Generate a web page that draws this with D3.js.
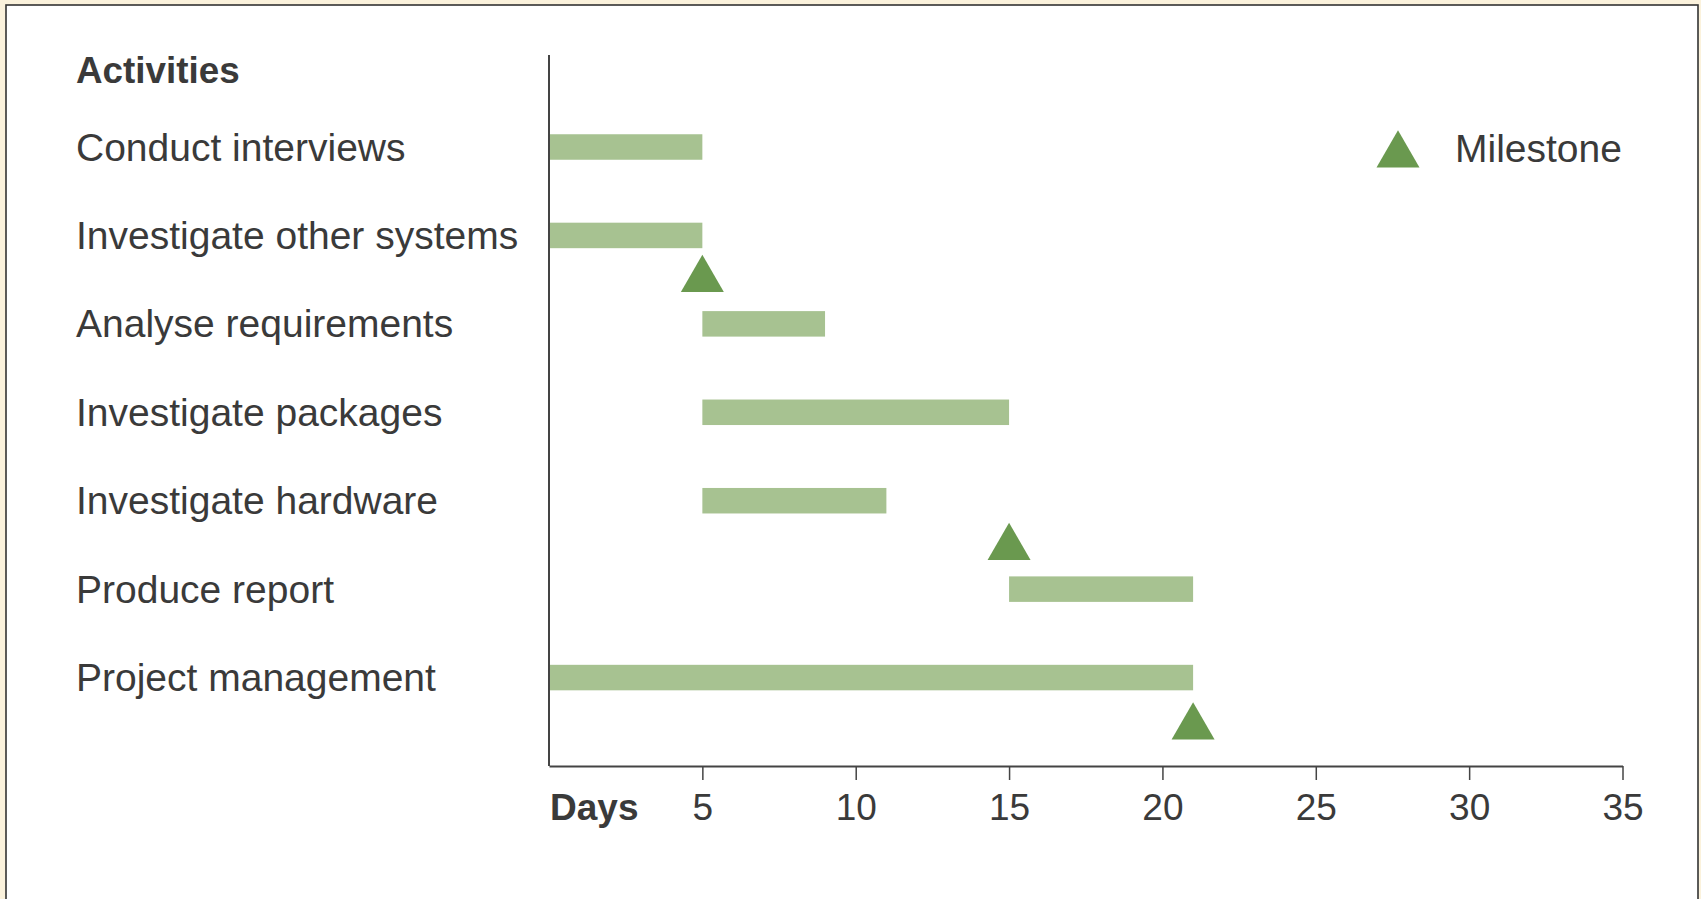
<!DOCTYPE html>
<html>
<head>
<meta charset="utf-8">
<script src="https://cdn.jsdelivr.net/npm/d3@7"></script>
<style>
  html, body { margin: 0; padding: 0; background: #fbf2dc; }
  svg { display: block; }
</style>
</head>
<body>
<script>
// activities and their start/end day
var activities = ["Conduct interviews", "Investigate other systems", "Analyse requirements",
                  "Investigate packages", "Investigate hardware", "Produce report", "Project management"];
var starts = [0, 0, 5, 5, 5, 15, 0];
var ends   = [5, 5, 9, 15, 11, 21, 21];

// milestones: day, and row position (between rows)
var milestoneDays = [5, 15, 21];
var milestoneRows = [1.5, 4.53, 6.56];

var tickValues = [5, 10, 15, 20, 25, 30, 35];

var w = 1701, h = 899;
var font = "'Liberation Sans', Arial, Helvetica, sans-serif";
var textCol = "#3a3a3a";
var barCol = "#a7c291";
var mileCol = "#6a994f";

var svg = d3.select("body").append("svg")
    .attr("width", w)
    .attr("height", h);

// white panel with border
svg.append("rect")
    .attr("x", 6).attr("y", 5)
    .attr("width", 1692).attr("height", 900)
    .attr("fill", "#fff")
    .attr("stroke", "#333")
    .attr("stroke-width", 1.6);

var xScale = d3.scaleLinear().domain([0, 35]).range([549, 1622.5]);
var yScale = d3.scaleLinear().domain([0, 7]).range([147, 766]); // row index -> y centre

var barH = 25.5;

// bars
svg.selectAll("rect.bar")
    .data(activities)
    .enter()
    .append("rect")
    .attr("class", "bar")
    .attr("x", function(d, i){ return xScale(starts[i]); })
    .attr("y", function(d, i){ return yScale(i) - barH / 2; })
    .attr("width", function(d, i){ return xScale(ends[i]) - xScale(starts[i]); })
    .attr("height", barH)
    .attr("fill", barCol);

// activity labels
svg.selectAll("text.act")
    .data(activities)
    .enter()
    .append("text")
    .attr("class", "act")
    .attr("x", 76)
    .attr("y", function(d, i){ return yScale(i) + 13.5; })
    .text(function(d){ return d; })
    .attr("font-family", font)
    .attr("font-size", "39px")
    .attr("fill", textCol);

svg.append("text")
    .attr("x", 76).attr("y", 82.5)
    .text("Activities")
    .attr("font-family", font)
    .attr("font-size", "36.8px")
    .attr("font-weight", "bold")
    .attr("fill", textCol);

// milestones
var tri = d3.symbol().type(d3.symbolTriangle).size(800);
svg.selectAll("path.mile")
    .data(milestoneDays)
    .enter()
    .append("path")
    .attr("class", "mile")
    .attr("d", tri)
    .attr("transform", function(d, i){
        return "translate(" + xScale(d) + "," + yScale(milestoneRows[i]) + ")";
    })
    .attr("fill", mileCol);

// y axis (plain line)
svg.append("line")
    .attr("x1", xScale(0)).attr("x2", xScale(0))
    .attr("y1", 55).attr("y2", yScale(7))
    .attr("stroke", "#444")
    .attr("stroke-width", 2);

// x axis
var xAxis = d3.axisBottom(xScale)
    .tickValues(tickValues)
    .tickSize(14)
    .tickSizeOuter(0)
    .tickPadding(14);

var gx = svg.append("g")
    .attr("transform", "translate(0," + yScale(7) + ")")
    .call(xAxis);
gx.select(".domain").attr("stroke", "#444").attr("stroke-width", 2);
gx.selectAll(".tick line").attr("stroke", "#444").attr("stroke-width", 1.5);
gx.selectAll(".tick text")
    .attr("font-family", font)
    .attr("font-size", "37px")
    .attr("fill", textCol);

svg.append("text")
    .attr("x", 550).attr("y", 820)
    .text("Days")
    .attr("font-family", font)
    .attr("font-size", "37px")
    .attr("font-weight", "bold")
    .attr("fill", textCol);

// legend
svg.append("path")
    .attr("d", tri)
    .attr("transform", "translate(1398,155)")
    .attr("fill", mileCol);
svg.append("text")
    .attr("x", 1455).attr("y", 162)
    .text("Milestone")
    .attr("font-family", font)
    .attr("font-size", "39px")
    .attr("fill", textCol);
</script>
</body>
</html>
